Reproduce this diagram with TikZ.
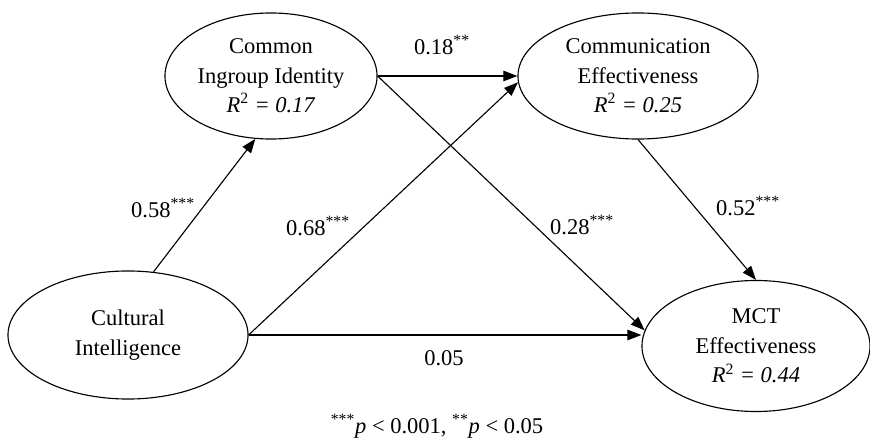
\documentclass[tikz,border=0pt]{standalone}
\usepackage{fontspec}
\setmainfont{Liberation Serif}
\usetikzlibrary{shapes.geometric, arrows.meta}

\begin{document}
\begin{tikzpicture}[x=0.025cm, y=-0.025cm,
        latent/.style={draw, ellipse, line width=0.8pt, inner sep=0pt, align=center, font=\fontsize{16}{21}\selectfont},
        effect/.style={line width=0.8pt, -{Triangle[length=10pt, width=7.5pt]}},
        coef/.style={font=\fontsize{16}{20}\selectfont}]
        \useasboundingbox (0,0) rectangle (870,439);
        % Constructs
        \node[latent, minimum width=5.3cm, minimum height=3.15cm] (cig) at (271,76) {Common\\Ingroup Identity\\\textit{R}\textsuperscript{2} \textit{= 0.17}};
        \node[latent, minimum width=6cm, minimum height=3.15cm] (ce) at (638,76) {Communication\\Effectiveness\\\textit{R}\textsuperscript{2} \textit{= 0.25}};
        \node[latent, minimum width=6cm, minimum height=3.2cm] (ci) at (128,335) {Cultural\\Intelligence};
        \node[latent, minimum width=5.7cm, minimum height=3.275cm] (mct) at (756,346) {MCT\\Effectiveness\\\textit{R}\textsuperscript{2} \textit{= 0.44}};
        % Paths
        \draw[effect] (ci.68) -- (cig.256);
        \draw[effect] (cig.east) -- (ce.west);
        \draw[effect] (ci.east) -- (ce.183);
        \draw[effect] (cig.east) -- (mct.172);
        \draw[effect] (ci.east) -- (ci.east -| mct.west);
        \draw[effect] (ce.south) -- (mct.north);
        % Coefficients
        \node[coef] (b58) at (163,208) {0.58\textsuperscript{***}};
        \node[coef] (b18) at (442,45) {0.18\textsuperscript{**}};
        \node[coef] (b68) at (318,226) {0.68\textsuperscript{***}};
        \node[coef] (b28) at (582,225) {0.28\textsuperscript{***}};
        \node[coef] (b52) at (748,206) {0.52\textsuperscript{***}};
        \node[coef] (b05) at (444,358) {0.05};
        % Note
        \node[coef] (note) at (437,426) {\textsuperscript{***}\textit{p} < 0.001, \textsuperscript{**}\textit{p} < 0.05};
    \end{tikzpicture}
\end{document}
